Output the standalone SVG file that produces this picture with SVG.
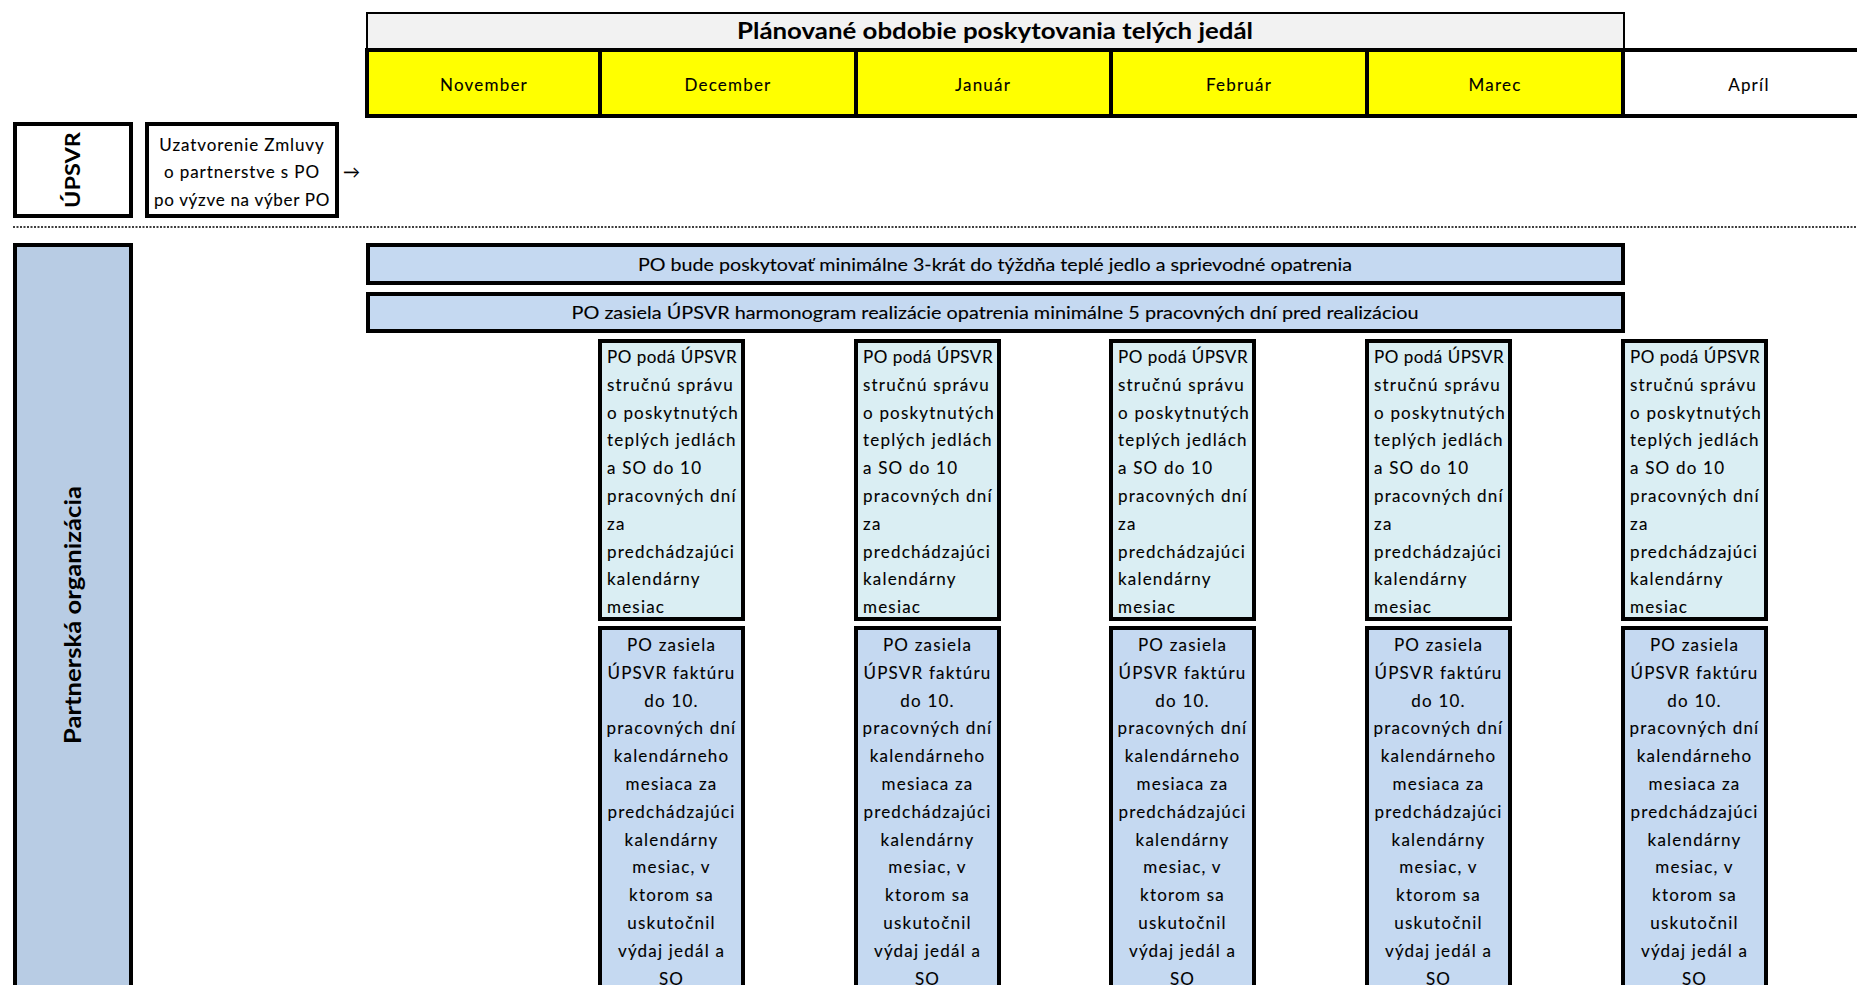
<svg xmlns="http://www.w3.org/2000/svg" width="1857" height="985" viewBox="0 0 1857 985">
<style>
.t{font-family:Lato,"Liberation Sans",sans-serif;font-size:17px;fill:#000;stroke:#000;stroke-width:0.1px;letter-spacing:1.2px}
.c{text-anchor:middle}
.b{font-weight:bold;letter-spacing:0;stroke-width:0}
.bx{stroke:#000;stroke-width:4}
.yl{fill:#ffff00}
.bl{fill:#c5d9f1}
.cy{fill:#daeef3}
.pt{letter-spacing:0.5px}
</style>
<rect width="1857" height="985" fill="#fff"/>
<g id="header">
<rect x="367" y="13" width="1257" height="37" fill="#f2f2f2" stroke="#000" stroke-width="2"/>
<text class="t b c" x="995" y="39" textLength="516" lengthAdjust="spacingAndGlyphs" style="font-size:22px">Plánované obdobie poskytovania telých jedál</text>
</g>
<g id="months">
<rect class="bx yl" x="367" y="50" width="233" height="66"/>
<rect class="bx yl" x="600" y="50" width="256" height="66"/>
<rect class="bx yl" x="856" y="50" width="255" height="66"/>
<rect class="bx yl" x="1111" y="50" width="256" height="66"/>
<rect class="bx yl" x="1367" y="50" width="256" height="66"/>
<line class="bx" x1="1623" y1="50" x2="1857" y2="50"/>
<line class="bx" x1="1623" y1="116" x2="1857" y2="116"/>
<text class="t c" x="484" y="91">November</text>
<text class="t c" x="728" y="91">December</text>
<text class="t c" x="983" y="91">Január</text>
<text class="t c" x="1239" y="91">Február</text>
<text class="t c" x="1495" y="91">Marec</text>
<text class="t c" x="1749" y="91">Apríl</text>
</g>
<g id="upsvr">
<rect class="bx" x="15" y="124" width="116" height="92" fill="#fff"/>
<text class="t b c" transform="translate(80,170) rotate(-90)" x="0" y="0" style="font-size:21px" textLength="76" lengthAdjust="spacingAndGlyphs">ÚPSVR</text>
</g>
<g id="zmluva">
<rect class="bx" x="147" y="124" width="190" height="92" fill="#fff"/>
<text class="t c" x="242" y="151" style="letter-spacing:0.9px">Uzatvorenie Zmluvy</text>
<text class="t c" x="242" y="178" style="letter-spacing:0.9px">o partnerstve s PO</text>
<text class="t c" x="242" y="206" style="letter-spacing:0.7px">po výzve na výber PO</text>
</g>
<g id="connectors">
<text class="t" x="343" y="178" style="letter-spacing:0">→</text>
</g>
<line x1="13" y1="227" x2="1857" y2="227" stroke="#000" stroke-width="1.5" stroke-dasharray="2 1.5"/>
<g id="partnerska">
<rect class="bx" x="15" y="245" width="116" height="800" fill="#b8cce4"/>
<text class="t b c" transform="translate(81,615) rotate(-90)" x="0" y="0" style="font-size:23px" textLength="258" lengthAdjust="spacingAndGlyphs">Partnerská organizácia</text>
</g>
<g id="row1">
<rect class="bx bl" x="368" y="245" width="1255" height="38"/>
<text class="t c" x="995" y="271" textLength="714" lengthAdjust="spacingAndGlyphs" style="letter-spacing:0">PO bude poskytovať minimálne 3-krát do týždňa teplé jedlo a sprievodné opatrenia</text>
</g>
<g id="row2">
<rect class="bx bl" x="368" y="294" width="1255" height="37"/>
<text class="t c" x="995" y="319" textLength="847" lengthAdjust="spacingAndGlyphs" style="letter-spacing:0">PO zasiela ÚPSVR harmonogram realizácie opatrenia minimálne 5 pracovných dní pred realizáciou</text>
</g>
<g id="report-dec">
<rect class="bx cy" x="600" y="341" width="143" height="278"/>
<text class="t" y="363"><tspan class="pt" x="607">PO podá ÚPSVR</tspan><tspan x="607" dy="27.8">stručnú správu</tspan><tspan x="607" dy="27.8">o poskytnutých</tspan><tspan x="607" dy="27.8">teplých jedlách</tspan><tspan x="607" dy="27.8">a SO do 10</tspan><tspan x="607" dy="27.8">pracovných dní</tspan><tspan x="607" dy="27.8">za</tspan><tspan x="607" dy="27.8">predchádzajúci</tspan><tspan x="607" dy="27.8">kalendárny</tspan><tspan x="607" dy="27.8">mesiac</tspan></text>
</g>
<g id="report-jan">
<rect class="bx cy" x="856" y="341" width="143" height="278"/>
<text class="t" y="363"><tspan class="pt" x="863">PO podá ÚPSVR</tspan><tspan x="863" dy="27.8">stručnú správu</tspan><tspan x="863" dy="27.8">o poskytnutých</tspan><tspan x="863" dy="27.8">teplých jedlách</tspan><tspan x="863" dy="27.8">a SO do 10</tspan><tspan x="863" dy="27.8">pracovných dní</tspan><tspan x="863" dy="27.8">za</tspan><tspan x="863" dy="27.8">predchádzajúci</tspan><tspan x="863" dy="27.8">kalendárny</tspan><tspan x="863" dy="27.8">mesiac</tspan></text>
</g>
<g id="report-feb">
<rect class="bx cy" x="1111" y="341" width="143" height="278"/>
<text class="t" y="363"><tspan class="pt" x="1118">PO podá ÚPSVR</tspan><tspan x="1118" dy="27.8">stručnú správu</tspan><tspan x="1118" dy="27.8">o poskytnutých</tspan><tspan x="1118" dy="27.8">teplých jedlách</tspan><tspan x="1118" dy="27.8">a SO do 10</tspan><tspan x="1118" dy="27.8">pracovných dní</tspan><tspan x="1118" dy="27.8">za</tspan><tspan x="1118" dy="27.8">predchádzajúci</tspan><tspan x="1118" dy="27.8">kalendárny</tspan><tspan x="1118" dy="27.8">mesiac</tspan></text>
</g>
<g id="report-mar">
<rect class="bx cy" x="1367" y="341" width="143" height="278"/>
<text class="t" y="363"><tspan class="pt" x="1374">PO podá ÚPSVR</tspan><tspan x="1374" dy="27.8">stručnú správu</tspan><tspan x="1374" dy="27.8">o poskytnutých</tspan><tspan x="1374" dy="27.8">teplých jedlách</tspan><tspan x="1374" dy="27.8">a SO do 10</tspan><tspan x="1374" dy="27.8">pracovných dní</tspan><tspan x="1374" dy="27.8">za</tspan><tspan x="1374" dy="27.8">predchádzajúci</tspan><tspan x="1374" dy="27.8">kalendárny</tspan><tspan x="1374" dy="27.8">mesiac</tspan></text>
</g>
<g id="report-apr">
<rect class="bx cy" x="1623" y="341" width="143" height="278"/>
<text class="t" y="363"><tspan class="pt" x="1630">PO podá ÚPSVR</tspan><tspan x="1630" dy="27.8">stručnú správu</tspan><tspan x="1630" dy="27.8">o poskytnutých</tspan><tspan x="1630" dy="27.8">teplých jedlách</tspan><tspan x="1630" dy="27.8">a SO do 10</tspan><tspan x="1630" dy="27.8">pracovných dní</tspan><tspan x="1630" dy="27.8">za</tspan><tspan x="1630" dy="27.8">predchádzajúci</tspan><tspan x="1630" dy="27.8">kalendárny</tspan><tspan x="1630" dy="27.8">mesiac</tspan></text>
</g>
<g id="invoice-dec">
<rect class="bx bl" x="600" y="628" width="143" height="420"/>
<text class="t c" y="651"><tspan x="671.5">PO zasiela</tspan><tspan x="671.5" dy="27.8">ÚPSVR faktúru</tspan><tspan x="671.5" dy="27.8">do 10.</tspan><tspan x="671.5" dy="27.8">pracovných dní</tspan><tspan x="671.5" dy="27.8">kalendárneho</tspan><tspan x="671.5" dy="27.8">mesiaca za</tspan><tspan x="671.5" dy="27.8">predchádzajúci</tspan><tspan x="671.5" dy="27.8">kalendárny</tspan><tspan x="671.5" dy="27.8">mesiac, v</tspan><tspan x="671.5" dy="27.8">ktorom sa</tspan><tspan x="671.5" dy="27.8">uskutočnil</tspan><tspan x="671.5" dy="27.8">výdaj jedál a</tspan><tspan x="671.5" dy="27.8">SO</tspan></text>
</g>
<g id="invoice-jan">
<rect class="bx bl" x="856" y="628" width="143" height="420"/>
<text class="t c" y="651"><tspan x="927.5">PO zasiela</tspan><tspan x="927.5" dy="27.8">ÚPSVR faktúru</tspan><tspan x="927.5" dy="27.8">do 10.</tspan><tspan x="927.5" dy="27.8">pracovných dní</tspan><tspan x="927.5" dy="27.8">kalendárneho</tspan><tspan x="927.5" dy="27.8">mesiaca za</tspan><tspan x="927.5" dy="27.8">predchádzajúci</tspan><tspan x="927.5" dy="27.8">kalendárny</tspan><tspan x="927.5" dy="27.8">mesiac, v</tspan><tspan x="927.5" dy="27.8">ktorom sa</tspan><tspan x="927.5" dy="27.8">uskutočnil</tspan><tspan x="927.5" dy="27.8">výdaj jedál a</tspan><tspan x="927.5" dy="27.8">SO</tspan></text>
</g>
<g id="invoice-feb">
<rect class="bx bl" x="1111" y="628" width="143" height="420"/>
<text class="t c" y="651"><tspan x="1182.5">PO zasiela</tspan><tspan x="1182.5" dy="27.8">ÚPSVR faktúru</tspan><tspan x="1182.5" dy="27.8">do 10.</tspan><tspan x="1182.5" dy="27.8">pracovných dní</tspan><tspan x="1182.5" dy="27.8">kalendárneho</tspan><tspan x="1182.5" dy="27.8">mesiaca za</tspan><tspan x="1182.5" dy="27.8">predchádzajúci</tspan><tspan x="1182.5" dy="27.8">kalendárny</tspan><tspan x="1182.5" dy="27.8">mesiac, v</tspan><tspan x="1182.5" dy="27.8">ktorom sa</tspan><tspan x="1182.5" dy="27.8">uskutočnil</tspan><tspan x="1182.5" dy="27.8">výdaj jedál a</tspan><tspan x="1182.5" dy="27.8">SO</tspan></text>
</g>
<g id="invoice-mar">
<rect class="bx bl" x="1367" y="628" width="143" height="420"/>
<text class="t c" y="651"><tspan x="1438.5">PO zasiela</tspan><tspan x="1438.5" dy="27.8">ÚPSVR faktúru</tspan><tspan x="1438.5" dy="27.8">do 10.</tspan><tspan x="1438.5" dy="27.8">pracovných dní</tspan><tspan x="1438.5" dy="27.8">kalendárneho</tspan><tspan x="1438.5" dy="27.8">mesiaca za</tspan><tspan x="1438.5" dy="27.8">predchádzajúci</tspan><tspan x="1438.5" dy="27.8">kalendárny</tspan><tspan x="1438.5" dy="27.8">mesiac, v</tspan><tspan x="1438.5" dy="27.8">ktorom sa</tspan><tspan x="1438.5" dy="27.8">uskutočnil</tspan><tspan x="1438.5" dy="27.8">výdaj jedál a</tspan><tspan x="1438.5" dy="27.8">SO</tspan></text>
</g>
<g id="invoice-apr">
<rect class="bx bl" x="1623" y="628" width="143" height="420"/>
<text class="t c" y="651"><tspan x="1694.5">PO zasiela</tspan><tspan x="1694.5" dy="27.8">ÚPSVR faktúru</tspan><tspan x="1694.5" dy="27.8">do 10.</tspan><tspan x="1694.5" dy="27.8">pracovných dní</tspan><tspan x="1694.5" dy="27.8">kalendárneho</tspan><tspan x="1694.5" dy="27.8">mesiaca za</tspan><tspan x="1694.5" dy="27.8">predchádzajúci</tspan><tspan x="1694.5" dy="27.8">kalendárny</tspan><tspan x="1694.5" dy="27.8">mesiac, v</tspan><tspan x="1694.5" dy="27.8">ktorom sa</tspan><tspan x="1694.5" dy="27.8">uskutočnil</tspan><tspan x="1694.5" dy="27.8">výdaj jedál a</tspan><tspan x="1694.5" dy="27.8">SO</tspan></text>
</g>
</svg>
